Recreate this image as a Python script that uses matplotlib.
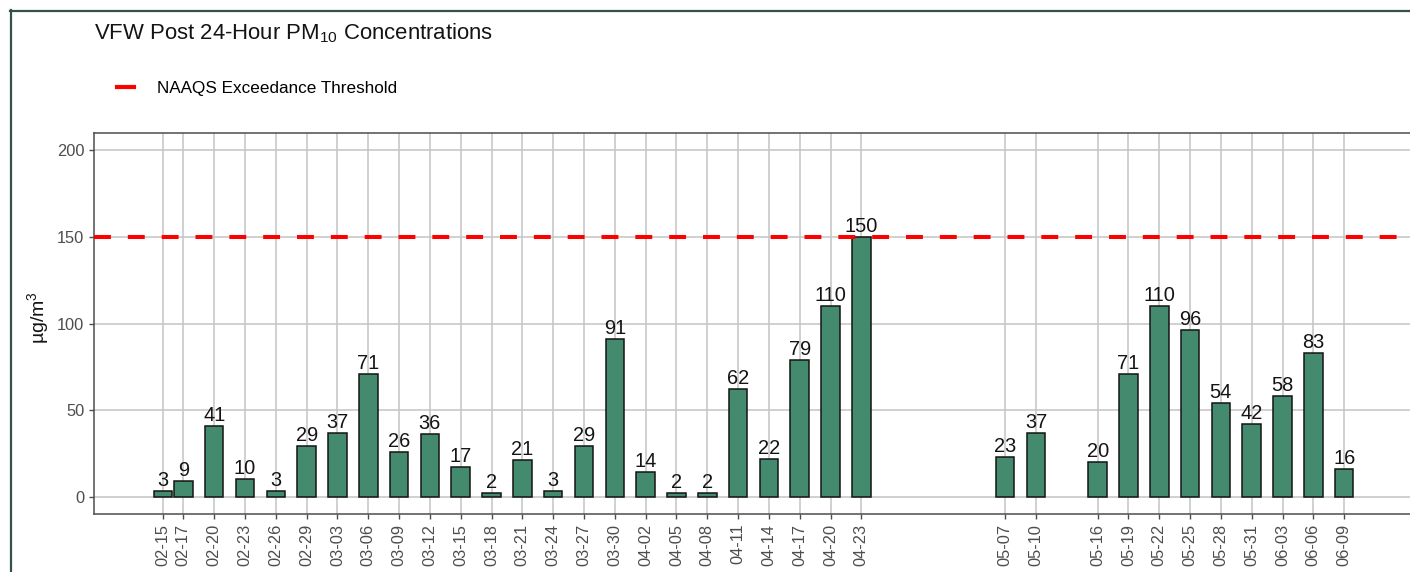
import numpy as np
import pandas as pd
import matplotlib
matplotlib.use("Agg")
import matplotlib.pyplot as plt
import matplotlib.dates as mdates
from matplotlib.lines import Line2D

plt.rcParams['font.family'] = ['Liberation Sans', 'DejaVu Sans']
plt.rcParams['mathtext.fontset'] = 'custom'
plt.rcParams['mathtext.rm'] = 'Liberation Sans'
plt.rcParams['mathtext.it'] = 'Liberation Sans:italic'

# sample days (2020) and 24-hour PM10 values
days = ['02-15', '02-17', '02-20', '02-23', '02-26', '02-29', '03-03', '03-06',
        '03-09', '03-12', '03-15', '03-18', '03-21', '03-24', '03-27', '03-30',
        '04-02', '04-05', '04-08', '04-11', '04-14', '04-17', '04-20', '04-23',
        '05-07', '05-10', '05-16', '05-19', '05-22', '05-25', '05-28', '05-31',
        '06-03', '06-06', '06-09']
pm10 = [3, 9, 41, 10, 3, 29, 37, 71, 26, 36, 17, 2, 21, 3, 29, 91,
        14, 2, 2, 62, 22, 79, 110, 150,
        23, 37, 20, 71, 110, 96, 54, 42, 58, 83, 16]
threshold = 150
yticks = [0, 50, 100, 150, 200]

dates = pd.to_datetime(['2020-' + d for d in days])
xs = mdates.date2num(dates)

W, H = 1410, 572
fig = plt.figure(figsize=(W / 100, H / 100), dpi=100)
ax = fig.add_axes([94 / W, 58 / H, (1413 - 94) / W, (514 - 133) / H])

ax.bar(xs, pm10, width=1.8, color='#438a6e', edgecolor='#141414', linewidth=1.1, zorder=2)
for x, v in zip(xs, pm10):
    ax.text(x, v + 0.6, str(v), ha='center', va='bottom', fontsize=14.4, color='#141414', zorder=4)

ax.axhline(threshold, color='#ff0000', lw=2.9, dashes=(4.2, 4.2), zorder=3)

pad = 6.7
ax.set_xlim(xs[0] - pad, xs[-1] + pad)
ax.set_ylim(-10, 210)
ax.set_xticks(xs)
ax.set_xticklabels(days, rotation=90)
ax.set_yticks(yticks)
ax.grid(True, color='#c4c4c4', lw=1.1, zorder=0)
ax.set_axisbelow(True)
ax.tick_params(axis='both', colors='#4d4d4d', labelsize=11.8, length=3.5, width=1.0, labelcolor='#4d4d4d')
for s in ax.spines.values():
    s.set_color('#4d4d4d')
    s.set_linewidth(1.1)

fig.text(94 / W, 1 - 33 / H, 'VFW Post 24-Hour PM$_{10}$ Concentrations',
         fontsize=15.9, ha='left', va='center', color='#141414')
fig.text(38 / W, 1 - 318 / H, 'µg/m$^3$', rotation=90, fontsize=14,
         ha='center', va='center', color='#141414')

handle = Line2D([], [], color='#ff0000', lw=3)
fig.legend([handle], ['NAAQS Exceedance Threshold'], loc='center left',
           bbox_to_anchor=(117 / W, 1 - 88 / H), frameon=False, fontsize=12.3,
           handlelength=1.0, handletextpad=1.35, borderpad=0, borderaxespad=0)

# outer border of the figure
fig.add_artist(Line2D([10.5 / W, 10.5 / W], [0, 1 - 10 / H], color='#34524c', lw=1.6))
fig.add_artist(Line2D([10 / W, 1], [1 - 10.5 / H, 1 - 10.5 / H], color='#34524c', lw=1.6))

fig.savefig('out.png', dpi=100)
